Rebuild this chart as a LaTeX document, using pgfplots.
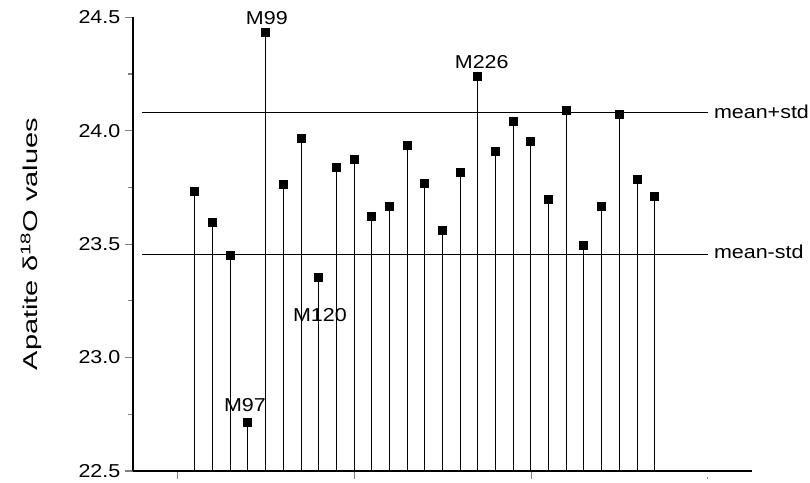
\documentclass[border=0pt]{standalone}
\usepackage{fontspec}
\setmainfont{Liberation Sans}[FakeStretch=1.15]
\newfontfamily\ylabfont{Liberation Sans}[FakeStretch=1.45]
\usepackage{pgfplots}
\pgfplotsset{compat=1.18}
\newcommand{\fs}{\fontsize{14}{17}\selectfont}
\begin{document}
\begin{tikzpicture}[font=\fs]
\path[use as bounding box] (-99.75pt,-8.25pt) rectangle (507.75pt,353.25pt);
\begin{axis}[
  scale only axis,
  width=464.25pt, height=340.3pt,
  xmin=-2.5, xmax=32.5, ymin=22.5, ymax=24.5,
  axis x line=bottom, axis y line=left,
  axis line style={-, line width=1pt},
  xtick={0,10,20,30}, xticklabels={},
  ytick={22.5,23,23.5,24,24.5},
  minor y tick num=1,
  tick align=outside,
  major tick length=6pt, minor tick length=3.75pt,
  x tick style={line width=0.5pt, shorten >=4.5pt},
  y tick style={line width=0.8pt},
  tick label style={font=\fs},
  /pgf/number format/assume math mode=true,
  yticklabel style={/pgf/number format/.cd, fixed, fixed zerofill, precision=1},
  ylabel={{\ylabfont Apatite δ\textsuperscript{18}O values}},
  ylabel style={at={(axis description cs:-0.1648,0.5)}, anchor=center, font=\fontsize{15}{18}\selectfont},
  clip mode=individual,
]
\addplot[ycomb, black, line width=0.75pt, mark=square*, mark size=3pt, mark options={solid, line width=0pt}] coordinates {
(1,23.734) (2,23.596) (3,23.448) (4,22.713) (5,24.432) (6,23.762) (7,23.967)
(8,23.354) (9,23.837) (10,23.871) (11,23.624) (12,23.667) (13,23.934) (14,23.768)
(15,23.558) (16,23.817) (17,24.240) (18,23.908) (19,24.040) (20,23.952) (21,23.696)
(22,24.087) (23,23.493) (24,23.665) (25,24.071) (26,23.786) (27,23.709)
};
\addplot[black, line width=0.75pt] coordinates {(-2,24.081) (30,24.081)};
\addplot[black, line width=0.75pt] coordinates {(-2,23.454) (30,23.454)};
\node[anchor=west, inner sep=0pt, xshift=4.5pt] at (axis cs:30,24.081) {mean+std};
\node[anchor=west, inner sep=0pt, xshift=4.5pt, yshift=2pt] at (axis cs:30,23.454) {mean-std};
\node[inner sep=0pt] at (axis cs:5.07,24.498) {M99};
\node[inner sep=0pt] at (axis cs:17.22,24.303) {M226};
\node[inner sep=0pt] at (axis cs:8.07,23.188) {M120};
\node[inner sep=0pt] at (axis cs:3.83,22.792) {M97};
\end{axis}
\end{tikzpicture}
\end{document}
